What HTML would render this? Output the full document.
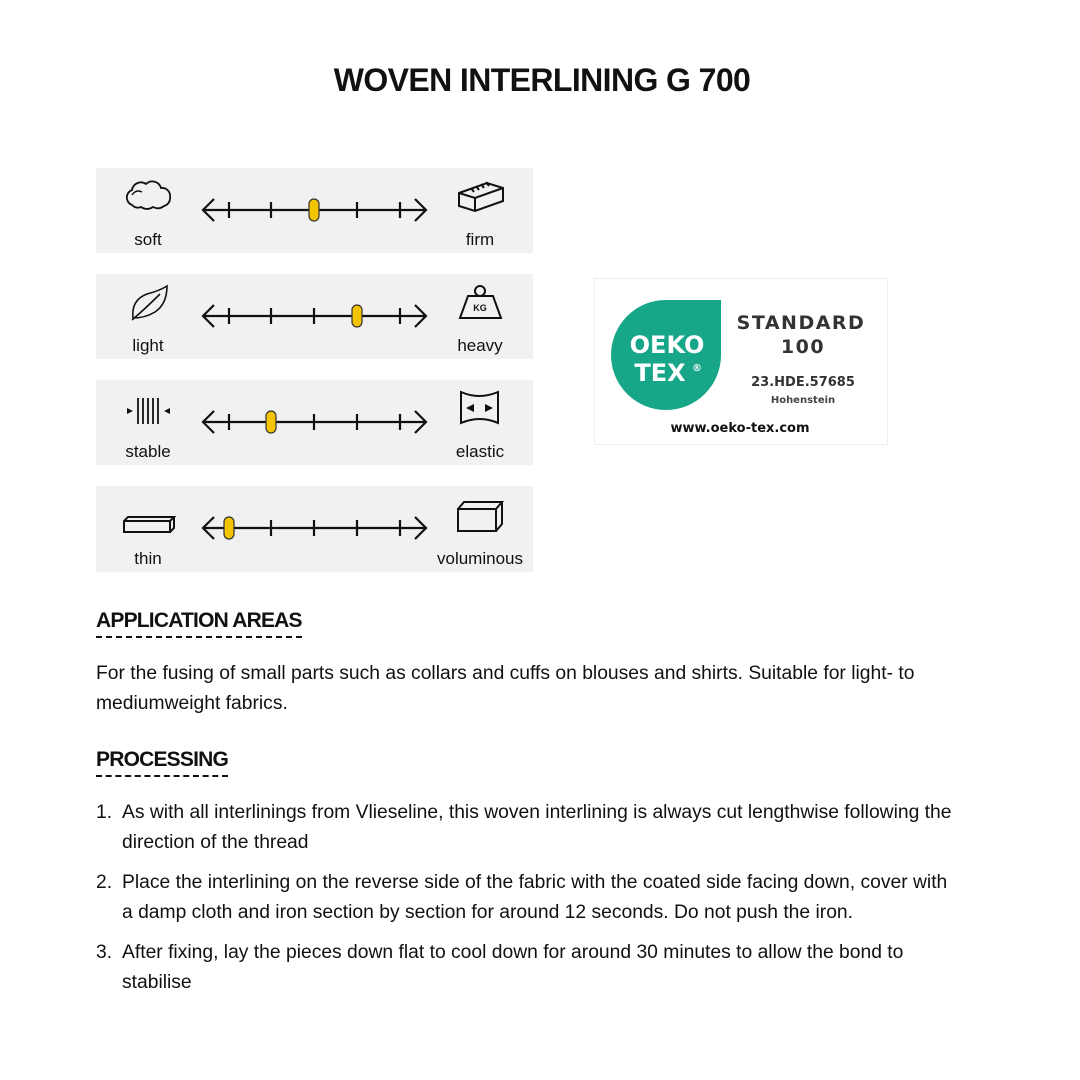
<!DOCTYPE html>
<html><head><meta charset="utf-8"><style>
body{margin:0;width:1080px;height:1080px;background:#fff;position:relative;font-family:"Liberation Sans",sans-serif;color:#111;overflow:hidden}
.abs{position:absolute}
.t{font-size:19.3px;line-height:30px;white-space:nowrap}
h2{position:absolute;margin:0;font-size:21px;font-weight:bold;letter-spacing:-0.8px;border-bottom:2px dashed #111;padding-bottom:2px;line-height:26px}
ol{position:absolute;margin:0;padding:0;list-style:none}
li{position:relative;padding-left:26px;font-size:19.3px;line-height:30px;margin-bottom:10px;white-space:nowrap}
li span{position:absolute;left:0}
</style></head><body>
<div class="abs" style="left:0;width:1084px;top:58px;text-align:center;font-size:32px;font-weight:bold;letter-spacing:-0.6px;line-height:44px">WOVEN INTERLINING G 700</div>
<svg class="abs" style="left:0;top:0" width="1080" height="600" viewBox="0 0 1080 600">
<defs><g id="s"><path d="M203 0H426M214 -11L203 0L214 11M415 -11L426 0L415 11M229 -8V8M271 -8V8M314 -8V8M357 -8V8M400 -8V8"/></g></defs>
<g font-family="Liberation Sans, sans-serif" font-size="17" fill="#111" text-anchor="middle">
<rect x="96" y="168" width="437" height="85" fill="#f1f1f1"/>
<rect x="96" y="274" width="437" height="85" fill="#f1f1f1"/>
<rect x="96" y="380" width="437" height="85" fill="#f1f1f1"/>
<rect x="96" y="486" width="437" height="86" fill="#f1f1f1"/>
<text x="148" y="245">soft</text><text x="480" y="245">firm</text>
<text x="148" y="351">light</text><text x="480" y="351">heavy</text>
<text x="148" y="457">stable</text><text x="480" y="457">elastic</text>
<text x="148" y="564">thin</text><text x="480" y="564">voluminous</text>
</g>
<g stroke="#111" stroke-width="2.2" fill="none">
<use href="#s" y="210"/><use href="#s" y="316"/><use href="#s" y="422"/><use href="#s" y="528"/>
<path d="M132 205a8 8 0 0 1 0-15a9 9 0 0 1 14-6a9 9 0 0 1 15 4a8 8 0 0 1 9 9a8 8 0 0 1-6 9q-5 4-11 1q-6 4-12 0q-5 2-9-2z" stroke-width="1.8"/>
<path d="M132 195q4-6 10-3" stroke-width="1.5"/>
<path d="M459 193l28-10l16 5v13l-28 10l-16-5zM459 193l16 5l28-10M475 198v13" stroke-width="2"/>
<path d="M474 192l-3-4M479 190l-3-4M484 188l-3-4M489 186l-3-4" stroke-width="2"/>
<path d="M133 318q-2-18 14-24q12-3 20-8q0 18-12 26q-10 6-22 6zM132 320q14-12 28-26" stroke-width="1.6"/>
<path d="M468 296h25l8 22h-41z" stroke-width="2"/><circle cx="480" cy="291" r="5" stroke-width="2"/>
<path d="M138 398v26M143 398v26M148 398v26M153 398v26M158 398v26" stroke-width="1.8"/>
<path d="M461 392q18 8 37 0v31q-18-8-37 0z" stroke-width="2"/>
<path d="M124 521h46l4-4h-46l-4 4v11h46v-11M170 532l4-4v-11" stroke-width="2"/>
<path d="M458 509h38v22h-38zM458 509l6-7h38l-6 7M502 502v22l-6 7" stroke-width="2"/>
</g>
<g fill="#111">
<path d="M127 408l6 3l-6 3zM170 408l-6 3l6 3z"/>
<path d="M466 408l8-4v8zM493 408l-8-4v8z"/>
<text x="480" y="311" font-family="Liberation Sans, sans-serif" font-size="9" font-weight="bold" text-anchor="middle">KG</text>
</g>
<g fill="#f5c400" stroke="#333" stroke-width="1.2">
<rect x="309" y="199" width="10" height="22" rx="5"/>
<rect x="352" y="305" width="10" height="22" rx="5"/>
<rect x="266" y="411" width="10" height="22" rx="5"/>
<rect x="224" y="517" width="10" height="22" rx="5"/>
</g>
<rect x="594.5" y="278.5" width="293" height="166" fill="#fff" stroke="#eee"/>
<path d="M721 300V355A55 55 0 1 1 666 300z" fill="#17a688"/>
<g font-family="DejaVu Sans, sans-serif" font-weight="bold" text-anchor="middle">
<text x="667" y="353" font-size="24" fill="#fff">OEKO</text>
<text x="660" y="381" font-size="24" fill="#fff">TEX</text>
<text x="697" y="371" font-size="10" fill="#fff">®</text>
<text x="801" y="329" font-size="19" fill="#333" letter-spacing="1.5">STANDARD</text>
<text x="803" y="353" font-size="19" fill="#333" letter-spacing="1.5">100</text>
<text x="803" y="386" font-size="13" fill="#333">23.HDE.57685</text>
<text x="803" y="403" font-size="10" fill="#444">Hohenstein</text>
<text x="740" y="432" font-size="13" fill="#111">www.oeko-tex.com</text>
</g>
</svg>
<h2 style="left:96px;top:608px">APPLICATION AREAS</h2>
<div class="abs t" style="left:96px;top:659px">For the fusing of small parts such as collars and cuffs on blouses and shirts. Suitable for light- to<br>mediumweight fabrics.</div>
<h2 style="left:96px;top:747px">PROCESSING</h2>
<ol style="left:96px;top:798px;width:900px">
<li><span>1.</span>As with all interlinings from Vlieseline, this woven interlining is always cut lengthwise following the<br>direction of the thread</li>
<li><span>2.</span>Place the interlining on the reverse side of the fabric with the coated side facing down, cover with<br>a damp cloth and iron section by section for around 12 seconds. Do not push the iron.</li>
<li><span>3.</span>After fixing, lay the pieces down flat to cool down for around 30 minutes to allow the bond to<br>stabilise</li>
</ol>
</body></html>
